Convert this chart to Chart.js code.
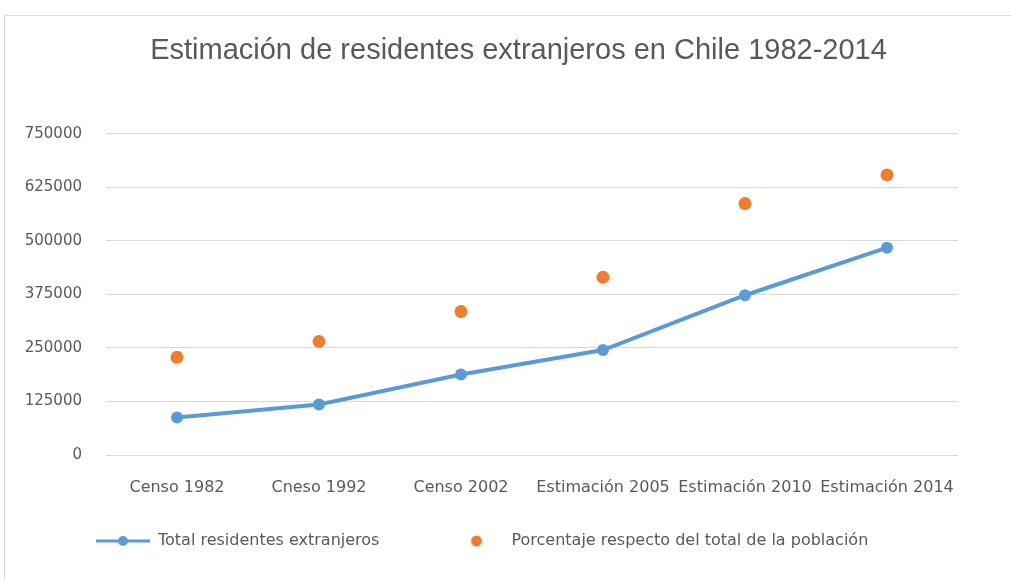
<!DOCTYPE html>
<html>
<head>
<meta charset="utf-8">
<script src="https://cdn.jsdelivr.net/npm/chart.js@4/dist/chart.umd.min.js"></script>
<style>
html,body{margin:0;padding:0;background:#fff;}
#wrap{position:relative;width:1011px;height:580px;}
</style>
</head>
<body>
<div id="wrap"><canvas id="c" width="1011" height="580"></canvas></div>
<script>
const categories = ["Censo 1982", "Cneso 1992", "Censo 2002", "Estimación 2005", "Estimación 2010", "Estimación 2014"];
const totalResidentes = [87500, 118000, 188000, 245000, 373000, 484000];
const porcentajePoblacion = [228000, 265000, 335000, 415000, 587000, 654000];
const yTicks = [0, 125000, 250000, 375000, 500000, 625000, 750000];

const BLUE = '#5B9BD5', ORANGE = '#ED7D31', TEXT = '#595959', GRID = '#d9d9d9';
const LEG_W = 54;

function legendImg(kind){
  const cv = document.createElement('canvas');
  cv.width = LEG_W; cv.height = 14;
  const g = cv.getContext('2d');
  const cx = LEG_W / 2;
  if (kind === 'line'){
    g.strokeStyle = BLUE; g.lineWidth = 3;
    g.beginPath(); g.moveTo(0,7); g.lineTo(LEG_W,7); g.stroke();
    g.fillStyle = BLUE; g.beginPath(); g.arc(cx,7,5,0,Math.PI*2); g.fill();
  } else {
    g.fillStyle = ORANGE; g.beginPath(); g.arc(cx,7,5.5,0,Math.PI*2); g.fill();
  }
  return cv;
}
const imgs = [legendImg('line'), legendImg('dot')];

const framePlugin = {
  id: 'frame',
  beforeDraw(chart){
    const ctx = chart.ctx;
    ctx.save();
    ctx.fillStyle = '#fff';
    ctx.fillRect(0,0,chart.width,chart.height);
    ctx.strokeStyle = GRID; ctx.lineWidth = 1;
    ctx.strokeRect(4.5, 15.5, 1200, 800);
    ctx.restore();
  }
};

new Chart(document.getElementById('c'), {
  type: 'line',
  data: {
    labels: categories,
    datasets: [
      {
        label: 'Total residentes extranjeros',
        data: totalResidentes,
        borderColor: BLUE,
        backgroundColor: BLUE,
        borderWidth: 4,
        pointRadius: 6,
        pointHoverRadius: 6,
        pointBackgroundColor: BLUE,
        pointBorderWidth: 0,
        tension: 0,
        yAxisID: 'y'
      },
      {
        label: 'Porcentaje respecto del total de la población',
        data: porcentajePoblacion,
        borderColor: ORANGE,
        backgroundColor: ORANGE,
        showLine: false,
        pointRadius: 6.5,
        pointHoverRadius: 6.5,
        pointBorderWidth: 0,
        pointBackgroundColor: ORANGE,
        yAxisID: 'y'
      }
    ]
  },
  options: {
    responsive: false,
    animation: false,
    events: [],
    layout: { padding: { left: 26, right: 0, top: 0, bottom: 21 } },
    scales: {
      x: {
        offset: true,
        grid: { display: false, drawTicks: false },
        border: { display: false },
        ticks: { color: TEXT, font: { family: 'DejaVu Sans', size: 16 }, mirror: true, padding: -42, maxRotation: 0, autoSkip: false },
        afterFit(s){ s.height = 8; }
      },
      y: {
        min: 0, max: 750000,
        afterBuildTicks(s){ s.ticks = yTicks.map(v => ({ value: v })); },
        grid: { color: GRID, lineWidth: 1, drawTicks: false },
        border: { display: false },
        ticks: { color: TEXT, font: { family: 'DejaVu Sans', size: 15 }, padding: 24, callback: v => String(v) },
        afterFit(s){ s.width = 80; }
      },
      y2: {
        position: 'right',
        display: true,
        grid: { display: false, drawTicks: false },
        border: { display: false },
        ticks: { display: false },
        afterFit(s){ s.width = 53; }
      }
    },
    plugins: {
      tooltip: { enabled: false },
      title: {
        display: true,
        text: 'Estimación de residentes extranjeros en Chile 1982-2014',
        color: TEXT,
        font: { family: 'Liberation Sans', size: 29, weight: 'normal' },
        padding: { top: 34, bottom: 65 }
      },
      legend: {
        display: true,
        position: 'bottom',
        align: 'start',
        labels: {
          color: TEXT,
          font: { family: 'DejaVu Sans', size: 16 },
          usePointStyle: true,
          pointStyleWidth: LEG_W,
          padding: 70,
          generateLabels(chart){
            const items = Chart.defaults.plugins.legend.labels.generateLabels(chart);
            items.forEach((it, i) => { it.pointStyle = imgs[i]; });
            return items;
          }
        }
      }
    }
  },
  plugins: [framePlugin]
});
</script>
</body>
</html>
